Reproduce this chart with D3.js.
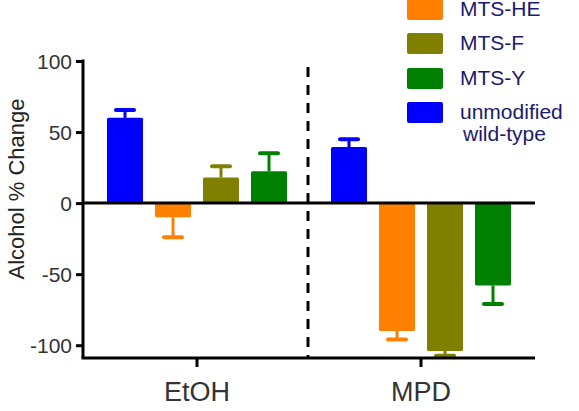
<!DOCTYPE html>
<html><head><meta charset="utf-8">
<script src="https://cdn.jsdelivr.net/npm/d3@7"></script>
<style>body{margin:0;background:#fff}svg{display:block}</style>
</head><body>
<svg id="c" width="579" height="411"></svg>
<script>
const groups = ["EtOH", "MPD"];
const series = ["unmodified wild-type", "MTS-HE", "MTS-F", "MTS-Y"];
const colors = ["#0000FF", "#FF8000", "#808000", "#008000"];
const etohValues = [60, -10, 18, 22.5];
const etohErrors = [5.5, 14, 8, 12.5];
const mpdValues = [39.5, -90, -104, -58];
const mpdErrors = [5.5, 6, 3.5, 13];
const yTicks = [100, 50, 0, -50, -100];
const legendOrder = ["MTS-HE", "MTS-F", "MTS-Y", "unmodified wild-type"];

const values = [etohValues, mpdValues];
const errors = [etohErrors, mpdErrors];
const svg = d3.select("#c");
const font = "Liberation Sans, Arial, sans-serif";

const y = d3.scaleLinear().domain([-109, 100]).range([358, 61]);
const x = d3.scaleBand().domain(groups).range([85, 533]);
const xi = d3.scaleBand().domain(series).range([-96, 96]).paddingInner(0.25).paddingOuter(0.125);

// bars
groups.forEach((g, gi) => {
  series.forEach((s, si) => {
    const v = values[gi][si], e = errors[gi][si];
    const cx = x(g) + x.bandwidth()/2 + xi(s);
    const col = colors[si];
    const y0 = y(0), y1 = y(v);
    svg.append("rect").attr("x", cx).attr("width", xi.bandwidth())
      .attr("y", Math.min(y0, y1)).attr("height", Math.abs(y1 - y0))
      .attr("fill", col).attr("rx", 1.5);
    const ye = y(v + Math.sign(v) * e);
    const mx = cx + xi.bandwidth()/2;
    svg.append("line").attr("x1", mx).attr("x2", mx).attr("y1", y1).attr("y2", ye)
      .attr("stroke", col).attr("stroke-width", 3);
    svg.append("line").attr("x1", mx - 9).attr("x2", mx + 9).attr("y1", ye).attr("y2", ye)
      .attr("stroke", col).attr("stroke-width", 4).attr("stroke-linecap", "round");
  });
});

// zero line
svg.append("line").attr("x1", 83).attr("x2", 535).attr("y1", y(0)).attr("y2", y(0))
  .attr("stroke", "#000").attr("stroke-width", 3);

// dashed separator
const sepX = x("MPD");
svg.append("line").attr("x1", sepX - 1).attr("x2", sepX - 1).attr("y1", 67).attr("y2", 358)
  .attr("stroke", "#000").attr("stroke-width", 3).attr("stroke-dasharray", "10,8");

// y axis
const ya = svg.append("g").attr("transform", "translate(83,0)")
  .call(d3.axisLeft(y).tickValues(yTicks).tickFormat(d => String(d)).tickSize(7).tickPadding(4));
ya.select(".domain").attr("stroke", "#000").attr("stroke-width", 3)
  .attr("d", `M0,${y(100)-1.5}V${y(-109)}`);
ya.selectAll(".tick line").attr("stroke", "#000").attr("stroke-width", 3);
ya.selectAll(".tick text").attr("font-family", font).attr("font-size", 21).attr("fill", "#333").attr("dy", "0.35em");

// x axis
const xa = svg.append("g").attr("transform", `translate(0,${y(-109)})`)
  .call(d3.axisBottom(x).tickSize(9));
xa.select(".domain").attr("stroke", "#000").attr("stroke-width", 3)
  .attr("d", `M81.5,0H535`);
xa.selectAll(".tick line").attr("stroke", "#000").attr("stroke-width", 3);
xa.selectAll(".tick text").attr("font-family", font).attr("font-size", 27).attr("fill", "#333")
  .attr("y", 43).attr("dy", 0);

// y label
svg.append("text").attr("transform", "translate(24,189) rotate(-90)")
  .attr("text-anchor", "middle").attr("font-family", font).attr("font-size", 22)
  .attr("fill", "#222").text("Alcohol % Change");

// legend
const ly = [-1, 33, 68, 102];
legendOrder.forEach((name, i) => {
  const si = series.indexOf(name);
  svg.append("rect").attr("x", 407).attr("y", ly[i]).attr("width", 36).attr("height", 21)
    .attr("rx", 2).attr("fill", colors[si]);
  const t = svg.append("text").attr("x", 460).attr("y", ly[i] + 17)
    .attr("font-family", font).attr("font-size", 21).attr("fill", "#1a1a6e");
  if (name === "unmodified wild-type") {
    t.append("tspan").attr("x", 460).text("unmodified");
    t.append("tspan").attr("x", 463).attr("dy", 22).text("wild-type");
  } else t.text(name);
});
</script>
</body></html>
